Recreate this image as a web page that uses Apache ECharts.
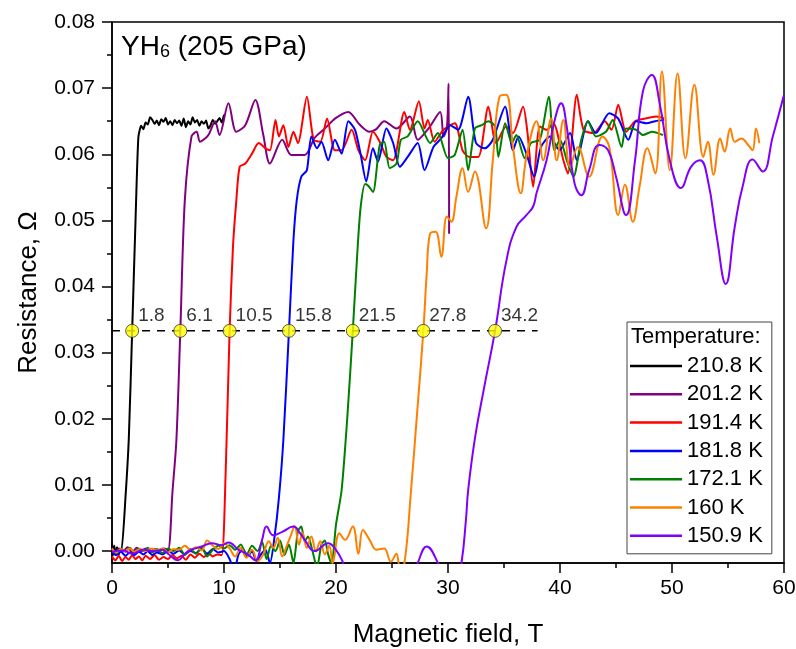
<!DOCTYPE html>
<html>
<head>
<meta charset="utf-8">
<script src="https://cdn.jsdelivr.net/npm/echarts@6/dist/echarts.min.js"></script>
<style>html,body{margin:0;padding:0;background:#fff}#c{width:796px;height:649px}</style>
</head>
<body>
<div id="c"></div>
<script>
const FONT = 'Liberation Sans, Arial, sans-serif';

const seriesNames = ['210.8 K', '201.2 K', '191.4 K', '181.8 K', '172.1 K', '160 K', '150.9 K'];
const seriesColors = ['#000000', '#800080', '#ff0000', '#0000ff', '#008000', '#ff8000', '#8000ff'];

const yTickLabels = [0, 0.01, 0.02, 0.03, 0.04, 0.05, 0.06, 0.07, 0.08];
const yMinorTicks = [0.005, 0.015, 0.025, 0.035, 0.045, 0.055, 0.065, 0.075];

const criticalFields = [1.8, 6.1, 10.5, 15.8, 21.5, 27.8, 34.2];
const criterionLevel = 0.0333;
const criterionRange = [0, 38];

const r2108 = [[0,0.0012],[0.1,-0.0006],[0.2,0.0008],[0.3,-0.0004],[0.45,0.0006],[0.6,-0.0005],[0.75,0.0003],[0.85,0.0001],[1.2,0.008],[1.5,0.017],[1.8,0.0333],[2.1,0.05],[2.35,0.0625],[2.6,0.0643],[2.8,0.0638],[3.0,0.0648],[3.2,0.0645],[3.4,0.0656],[3.6,0.0652],[3.8,0.0646],[4.0,0.0651],[4.2,0.0644],[4.4,0.0653],[4.6,0.0649],[4.8,0.0655],[5.0,0.0645],[5.2,0.065],[5.4,0.0644],[5.6,0.0652],[5.8,0.0647],[6.0,0.0651],[6.2,0.0643],[6.4,0.0654],[6.6,0.0641],[6.8,0.065],[7.0,0.0645],[7.2,0.0656],[7.4,0.0648],[7.6,0.0652],[7.8,0.0643],[8.0,0.065],[8.2,0.0646],[8.4,0.0651],[8.6,0.0639],[8.8,0.0644],[9.0,0.0652],[9.2,0.0646],[9.4,0.065],[9.6,0.0655],[9.8,0.0648],[10.0,0.066]];

const r2012 = [[0,0.0005],[0.3,-0.0003],[0.6,0.0004],[1.0,0.0],[1.4,0.0006],[1.8,-0.0002],[2.2,0.0005],[2.6,0.0],[3.0,0.0004],[3.4,-0.0003],[3.8,0.0003],[4.2,-0.0001],[4.6,0.0004],[5.0,0.0002],[5.4,0.009],[5.75,0.0168],[6.1,0.0333],[6.5,0.053],[7.1,0.0627],[7.56,0.0634],[7.86,0.0619],[8.6,0.0629],[9.2,0.065],[9.6,0.0629],[10.4,0.0677],[11.1,0.0634],[11.9,0.0644],[12.8,0.0682],[13.5,0.063],[14.1,0.0586],[15.2,0.0622],[16.0,0.0599],[17.2,0.0599],[18.1,0.0625],[19.0,0.0639],[20.0,0.0655],[21.1,0.0664],[22.1,0.0645],[23.0,0.0634],[23.6,0.0638],[24.3,0.065],[25.4,0.0639],[26.6,0.0657],[27.3,0.0622],[28.3,0.064],[29.3,0.0664],[29.6,0.0627],[29.9,0.064],[30.05,0.0707],[30.1,0.048]];

const r1914 = [[0,-0.0008],[0.3,-0.0014],[0.6,-0.0007],[0.9,-0.0015],[1.2,-0.0009],[1.5,-0.0013],[1.8,-0.0006],[2.1,-0.0012],[2.4,-0.0008],[2.7,-0.0014],[3.0,-0.0007],[3.4,-0.0012],[3.8,-0.0006],[4.2,-0.0013],[4.6,-0.0009],[5.0,-0.0012],[5.4,-0.0006],[5.8,-0.0011],[6.2,-0.0007],[6.6,-0.0013],[7.0,-0.0005],[7.4,-0.001],[7.8,-0.0004],[8.2,-0.0009],[8.6,-0.0003],[9.0,-0.0008],[9.4,-0.0005],[9.8,-0.0006],[10.15,0.012],[10.5,0.0333],[10.8,0.046],[11.1,0.053],[11.4,0.0581],[11.9,0.0586],[12.5,0.0601],[13.1,0.0617],[13.7,0.0609],[14.1,0.0606],[14.6,0.0652],[14.9,0.0627],[15.3,0.0644],[15.75,0.0611],[16.2,0.0634],[16.6,0.0617],[17.4,0.0687],[18.0,0.0622],[18.6,0.0619],[19.2,0.0654],[19.9,0.0606],[20.5,0.0606],[21.4,0.0637],[22.0,0.0606],[22.6,0.0591],[23.3,0.0634],[23.9,0.0619],[24.5,0.0596],[25.1,0.0591],[26.1,0.0664],[26.6,0.0637],[27.4,0.068],[27.9,0.0639],[28.2,0.0652],[28.8,0.0619],[29.6,0.0637],[30.6,0.0647],[31.3,0.0606],[31.9,0.0596],[32.7,0.0596],[33.6,0.0672],[34.3,0.0617],[35.2,0.0642],[35.8,0.0632],[36.7,0.0672],[37.1,0.0632],[37.6,0.0551],[38.2,0.0642],[38.8,0.0637],[39.4,0.0647],[40.3,0.0591],[40.7,0.0571],[41.5,0.069],[42.1,0.0637],[43.0,0.0632],[44.0,0.065],[44.6,0.0637],[45.2,0.0675],[45.9,0.0634],[46.7,0.065],[47.6,0.0654],[48.6,0.0657],[49.3,0.0654]];

const r1818 = [[0,-0.0002],[0.4,-0.0006],[0.8,-0.0001],[1.2,-0.0007],[1.6,-0.0002],[2.0,-0.0006],[2.4,-0.0001],[2.8,-0.0005],[3.2,0.0],[3.6,-0.0006],[4.0,-0.0002],[4.5,-0.0005],[5.0,0.0],[5.5,-0.0004],[6.0,0.0001],[6.5,-0.0005],[7.0,0.0],[7.5,-0.0003],[8.0,0.0004],[8.5,-0.0004],[9.0,0.0003],[9.5,-0.0002],[10.0,0.0],[10.5,-0.0012],[10.9,-0.003],[11.3,-0.0005],[11.7,0.0003],[12.1,-0.0008],[12.5,0.0],[12.9,-0.0015],[13.3,-0.0005],[13.7,0.0002],[14.1,-0.0018],[14.5,0.002],[14.9,0.008],[15.3,0.0168],[15.8,0.0333],[16.2,0.047],[16.5,0.0531],[16.9,0.0566],[17.4,0.0576],[17.8,0.0627],[18.3,0.0609],[18.7,0.0619],[19.3,0.0591],[19.9,0.0622],[20.5,0.0601],[21.1,0.065],[21.7,0.0637],[22.2,0.06],[22.7,0.0559],[23.3,0.0609],[23.75,0.0589],[24.5,0.0639],[25.1,0.0617],[25.7,0.0581],[26.4,0.0596],[27.3,0.0617],[27.9,0.0576],[28.7,0.0611],[29.4,0.0624],[30.2,0.0644],[30.9,0.0637],[31.8,0.0687],[32.5,0.0617],[33.3,0.0609],[34.0,0.0622],[35.1,0.0672],[35.8,0.0606],[36.3,0.0627],[37.0,0.0601],[37.7,0.0566],[38.3,0.0611],[39.1,0.0627],[39.95,0.0606],[40.9,0.0632],[41.5,0.0591],[42.5,0.065],[43.2,0.0632],[44.4,0.0662],[45.2,0.0654],[46.1,0.0622],[46.8,0.065],[47.7,0.0647],[48.5,0.065],[49.3,0.0652]];

const r1721 = [[0,0.0002],[0.4,-0.0003],[0.8,0.0004],[1.2,-0.0001],[1.6,0.0005],[2.0,-0.0002],[2.4,0.0004],[2.8,0.0],[3.2,0.0005],[3.6,-0.0002],[4.0,0.0003],[4.5,-0.0003],[5.0,0.0004],[5.5,0.0],[6.0,0.0005],[6.5,-0.0006],[7.0,0.0003],[7.5,-0.0004],[8.0,0.0006],[8.5,-0.0008],[9.0,0.0002],[9.5,0.0008],[10.0,0.0004],[10.5,0.0009],[11.0,0.0002],[11.5,0.001],[12.0,-0.0006],[12.5,0.0008],[13.0,0.0],[13.4,0.0014],[13.8,-0.0012],[14.2,0.0008],[14.6,0.0],[15.0,0.0016],[15.4,-0.0006],[15.8,0.001],[16.2,-0.0018],[16.6,0.003],[16.9,0.0037],[17.2,0.0015],[17.5,0.0022],[17.9,0.0],[18.3,-0.0025],[18.7,0.001],[19.0,0.0016],[19.3,-0.0005],[19.6,-0.0019],[20.0,0.004],[20.5,0.0092],[21.0,0.02],[21.5,0.0333],[21.9,0.045],[22.2,0.052],[22.6,0.0555],[22.9,0.0552],[23.3,0.0543],[23.9,0.0614],[24.3,0.0619],[24.8,0.0579],[25.4,0.0586],[25.8,0.0622],[26.4,0.0627],[27.3,0.065],[28.4,0.0617],[29.1,0.0632],[30.0,0.0594],[30.6,0.0599],[31.3,0.0637],[31.8,0.0576],[32.4,0.0639],[33.0,0.0644],[33.6,0.065],[34.2,0.0642],[34.5,0.0596],[35.1,0.0647],[35.7,0.0617],[36.1,0.0629],[36.85,0.0594],[37.4,0.0617],[38.2,0.0622],[39.0,0.0687],[39.5,0.0606],[40.0,0.0622],[40.6,0.0591],[41.2,0.0566],[41.9,0.0622],[42.5,0.065],[43.2,0.0627],[44.1,0.0634],[44.7,0.0652],[45.5,0.0611],[45.9,0.0639],[46.8,0.0637],[47.4,0.0629],[48.2,0.0634],[49.2,0.0629]];

const r1600 = [[0,0.0004],[0.4,-0.0002],[0.8,0.0003],[1.2,0.0],[1.6,0.0004],[2.0,-0.0001],[2.5,0.0003],[3.0,0.0],[3.5,0.0004],[4.0,0.0001],[4.5,0.0004],[5.0,-0.0002],[5.5,0.0003],[6.0,0.0002],[6.5,0.0008],[7.0,0.0002],[7.5,0.0006],[8.0,0.0001],[8.5,0.0016],[9.0,0.0008],[9.5,0.0003],[10.0,0.0012],[10.5,0.0004],[11.0,-0.0008],[11.5,0.0005],[12.0,-0.001],[12.5,0.0002],[13.0,-0.0015],[13.5,-0.0005],[14.0,0.0015],[14.4,0.0005],[14.8,0.002],[15.2,-0.0008],[15.6,0.0008],[16.0,0.0025],[16.3,0.0038],[16.7,0.001],[17.0,0.0028],[17.4,0.0005],[17.8,0.0022],[18.2,0.0],[18.6,0.0015],[19.0,-0.0005],[19.4,0.0008],[19.7,-0.0018],[20.3,0.0027],[20.8,0.0017],[21.5,0.0037],[22.0,-0.0004],[22.4,0.0032],[23.0,0.0017],[23.6,0.0002],[24.3,0.0004],[24.9,-0.0016],[25.4,-0.0004],[25.7,-0.0022],[26.1,-0.0019],[26.7,0.0092],[27.2,0.02],[27.8,0.0333],[28.1,0.042],[28.4,0.048],[28.9,0.0483],[29.4,0.0445],[29.9,0.0506],[30.3,0.0498],[30.75,0.0536],[31.3,0.0579],[31.8,0.0543],[32.4,0.0574],[33.4,0.0488],[34.0,0.0591],[34.6,0.0687],[35.2,0.069],[35.8,0.0611],[36.5,0.0541],[37.0,0.0596],[37.9,0.065],[38.5,0.0591],[39.2,0.0654],[39.7,0.0591],[40.3,0.0652],[40.9,0.0581],[41.6,0.0611],[42.6,0.0566],[43.8,0.0627],[44.4,0.0611],[45.2,0.0508],[45.8,0.0554],[46.5,0.0498],[47.1,0.0551],[47.8,0.0609],[48.5,0.0571],[49.1,0.0725],[49.8,0.0576],[50.5,0.0722],[51.2,0.0594],[52.0,0.0705],[52.8,0.0596],[53.2,0.0619],[53.7,0.0569],[54.3,0.0624],[54.7,0.0604],[55.2,0.0639],[55.6,0.0619],[56.2,0.0624],[56.8,0.0614],[57.2,0.0606],[57.5,0.0639],[57.8,0.0617]];

const r1509 = [[0,-0.0001],[1.0,0.0001],[1.8,-0.0004],[2.8,0.0002],[3.8,0.0],[4.5,0.0002],[5.0,-0.0004],[5.9,-0.0014],[6.5,-0.0004],[7.1,0.0002],[8.0,0.0007],[8.9,0.0012],[9.8,0.0009],[10.4,0.0013],[11.3,0.0002],[12.2,-0.0006],[12.8,-0.0014],[13.4,0.0017],[13.8,0.0037],[14.4,0.0024],[15.2,0.0029],[16.2,0.0037],[16.8,0.0027],[17.2,0.0017],[18.1,0.0],[19.3,0.0012],[19.9,0.0004],[20.6,-0.0016],[21.3,-0.005],[26.6,-0.005],[27.3,-0.0018],[28.1,0.0007],[29.1,-0.0018],[29.8,-0.005],[30.7,-0.005],[31.2,-0.0018],[31.6,0.0047],[31.8,0.0092],[32.4,0.017],[33.2,0.0245],[34.2,0.0333],[35.2,0.0438],[36.1,0.049],[37.0,0.0508],[37.6,0.0521],[37.9,0.0541],[38.8,0.0591],[39.5,0.065],[40.1,0.0677],[40.6,0.0642],[41.3,0.0556],[41.9,0.0538],[42.6,0.0576],[43.5,0.0614],[44.3,0.0606],[45.0,0.0566],[45.9,0.0508],[46.7,0.0591],[47.4,0.0695],[48.2,0.072],[48.9,0.0677],[49.8,0.0591],[50.8,0.0549],[51.7,0.0581],[52.5,0.0591],[53.2,0.0561],[54.0,0.0475],[54.8,0.0404],[55.6,0.049],[56.3,0.0551],[57.2,0.0592],[58.1,0.0574],[59.0,0.0627],[60.0,0.069]];

const seriesData = [r2108, r2012, r1914, r1818, r1721, r1600, r1509];
const smoothing = [0.2, 0.3, 0.25, 0.25, 0.25, 0.4, 0.45];

const chart = echarts.init(document.getElementById('c'), null, {renderer: 'canvas'});

const lineSeries = seriesNames.map((name, i) => ({
  name: name,
  type: 'line',
  data: seriesData[i],
  symbol: 'none',
  smooth: smoothing[i],
  clip: true,
  lineStyle: {color: seriesColors[i], width: 2},
  itemStyle: {color: seriesColors[i]},
  z: 2 + i
}));

const option = {
  animation: false,
  backgroundColor: '#fff',
  grid: {left: 112, right: 12, top: 22, bottom: 86, outerBoundsMode: 'none', containLabel: false, show: true, borderColor: '#000', borderWidth: 1.5, backgroundColor: 'transparent'},
  xAxis: {
    type: 'value', min: 0, max: 60, interval: 10,
    name: 'Magnetic field, T', nameLocation: 'middle', nameGap: 59,
    nameTextStyle: {fontSize: 26, fontFamily: FONT, color: '#000'},
    axisLine: {onZero: false, lineStyle: {color: '#000', width: 1.5}},
    axisTick: {show: true, inside: false, length: 10, lineStyle: {color: '#000', width: 1.5}},
    minorTick: {show: true, splitNumber: 2, length: 5, lineStyle: {color: '#000', width: 1.5}},
    axisLabel: {fontSize: 21, fontFamily: FONT, color: '#000', margin: 15},
    splitLine: {show: false},
    minorSplitLine: {show: false}
  },
  yAxis: [{
    type: 'value', min: -0.0018, max: 0.08,
    position: 'left',
    name: 'Resistance, Ω', nameLocation: 'middle', nameGap: 70,
    nameTextStyle: {fontSize: 26, fontFamily: FONT, color: '#000'},
    axisLine: {show: true, onZero: false, lineStyle: {color: '#000', width: 1.5}},
    axisTick: {show: true, inside: false, length: 10, customValues: yTickLabels, lineStyle: {color: '#000', width: 1.5}},
    axisLabel: {fontSize: 21, fontFamily: FONT, color: '#000', margin: 17, customValues: yTickLabels, formatter: v => v.toFixed(2)},
    splitLine: {show: false}
  }, {
    type: 'value', min: -0.0018, max: 0.08,
    position: 'left', offset: 0,
    axisLine: {show: false, onZero: false},
    axisTick: {show: true, inside: false, length: 5, customValues: yMinorTicks, lineStyle: {color: '#000', width: 1.5}},
    axisLabel: {show: false},
    splitLine: {show: false}
  }],
  legend: {
    data: seriesNames,
    orient: 'vertical',
    left: 627, top: 322,
    padding: [33, 9, 7, 3],
    icon: 'rect',
    itemWidth: 52, itemHeight: 2.5, itemGap: 6.3,
    borderColor: '#444', borderWidth: 1,
    backgroundColor: '#fff',
    textStyle: {fontSize: 22, fontFamily: FONT, color: '#000', lineHeight: 22}
  },
  graphic: [
    {type: 'text', left: 631, top: 326, z: 100,
     style: {text: 'Temperature:', font: '22px ' + FONT, fill: '#000'}},
    {type: 'text', left: 121, top: 33, z: 100,
     style: {
       text: '{a|YH}{s|6}{a| (205 GPa)}',
       rich: {
         a: {fontSize: 28, fontFamily: FONT, fill: '#000', verticalAlign: 'bottom'},
         s: {fontSize: 18, fontFamily: FONT, fill: '#000', padding: [14, 0, 0, 0]}
       }
     }}
  ],
  series: lineSeries.concat([
    {
      name: 'criterion', type: 'line',
      data: criterionRange.map(x => [x, criterionLevel]),
      symbol: 'none', silent: true,
      lineStyle: {color: '#000', width: 1.5, type: [8, 7]},
      z: 20
    },
    {
      name: 'Hc', type: 'scatter',
      data: criticalFields.map(x => [x, criterionLevel]),
      symbol: 'circle', symbolSize: 13,
      itemStyle: {color: '#ffff00', borderColor: '#333', borderWidth: 1},
      label: {
        show: true, position: 'right', distance: 5, offset: [-6, -15],
        formatter: p => String(p.value[0]),
        fontSize: 19, fontFamily: FONT, color: '#000'
      },
      z: 30
    }
  ])
};

chart.setOption(option);
</script>
</body>
</html>
